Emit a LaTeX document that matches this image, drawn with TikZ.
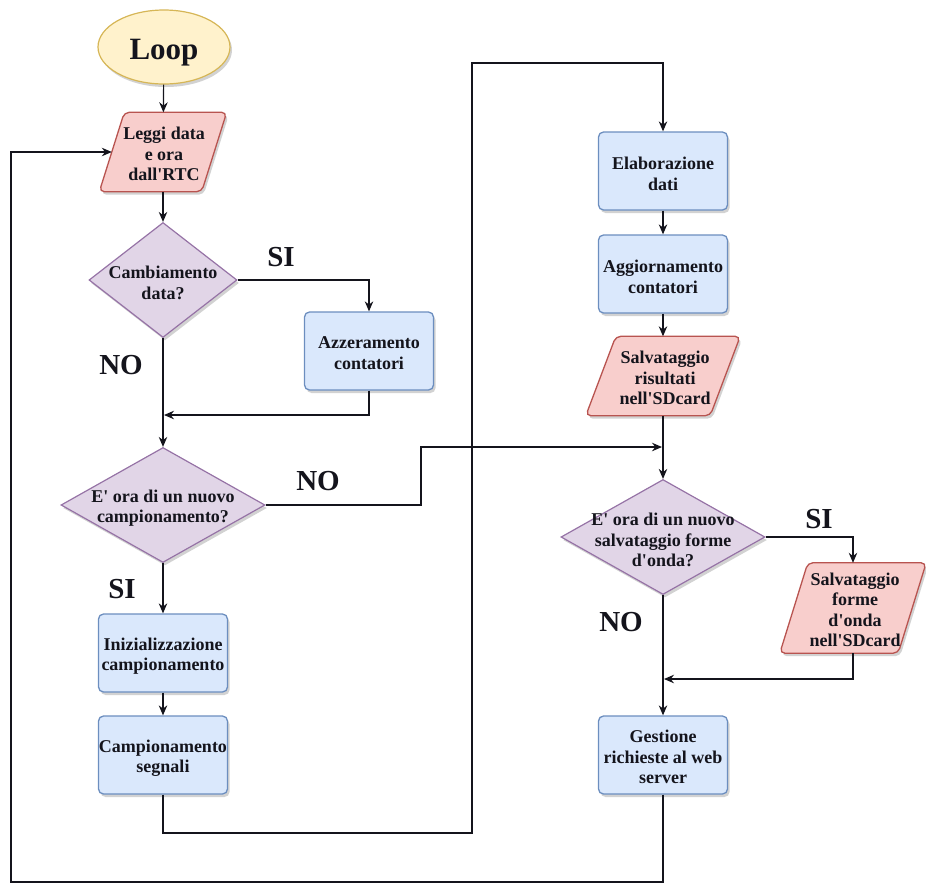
\documentclass[tikz,border=0pt]{standalone}
\usepackage{fontspec}
\setmainfont{Liberation Serif}[Ligatures=TeXOff]
\usetikzlibrary{shapes.geometric,arrows.meta,shadows}

\definecolor{yelFill}{HTML}{FFF2CC}
\definecolor{yelLine}{HTML}{D6B656}
\definecolor{redFill}{HTML}{F8CECC}
\definecolor{redLine}{HTML}{B85450}
\definecolor{vioFill}{HTML}{E1D5E7}
\definecolor{vioLine}{HTML}{9673A6}
\definecolor{bluFill}{HTML}{DAE8FC}
\definecolor{bluLine}{HTML}{6C8EBF}
\definecolor{ink}{HTML}{14141C}

\tikzset{
  x=1pt, y=-1pt,
  softshadow/.style={drop shadow={shadow xshift=2pt, shadow yshift=-3pt, opacity=0.25, fill=black!70}},
  startbox/.style={ellipse, draw=yelLine, fill=yelFill, line width=1.2pt,
    minimum width=132pt, minimum height=74pt, inner sep=0pt, softshadow},
  procbox/.style={rectangle, rounded corners=5pt, draw=bluLine, fill=bluFill, line width=1.3pt,
    minimum width=129pt, minimum height=78pt, inner sep=0pt, softshadow},
  % invisible frame of a data box; the slanted outline is drawn around it
  ioframe/.style={rectangle, inner sep=0pt},
  ioshape/.style={rounded corners=5pt, draw=redLine, fill=redFill, line width=1.3pt, softshadow},
  decision/.style={diamond, draw=vioLine, fill=vioFill, line width=1.2pt,
    inner sep=0pt, softshadow},
  txt/.style={text=ink, align=center, inner sep=0pt,
    font=\fontsize{18}{20.5}\selectfont\bfseries},
  lbl/.style={text=ink, inner sep=0pt, font=\fontsize{29}{32}\selectfont\bfseries},
  arr/.style={draw=ink, line width=1.2pt, -{Stealth[length=10pt,width=8.5pt]}},
}

% slanted data box around frame node #1, half skew #2
\newcommand\slantbox[2]{%
  \path[ioshape] ([xshift=-#2]#1.south west) -- ([xshift=-#2]#1.south east)
    -- ([xshift=#2]#1.north east) -- ([xshift=#2]#1.north west) -- cycle;}

\begin{document}
\begin{tikzpicture}
\useasboundingbox (0,0) rectangle (926,884);

% ---- left column ----
\node[startbox] (loop) at (164,47) {};
\node[text=ink, inner sep=0pt, font=\fontsize{31}{34}\selectfont\bfseries] (loopT) at (164,53) {Loop};

\node[ioframe, minimum width=102pt, minimum height=79pt] (leggi) at (163,152) {};
\slantbox{leggi}{12.5pt}
\node[txt] (leggiT) at (164,154) {Leggi data\\e ora\\dall'RTC};

\node[decision, minimum width=148pt, minimum height=115pt] (d1) at (163,280) {};
\node[txt] (d1T) at (163,283) {Cambiamento\\data?};

\node[procbox] (azz) at (369,351) {};
\node[txt] (azzT) at (369,353) {Azzeramento\\contatori};

\node[decision, minimum width=204pt, minimum height=115pt] (d2) at (163,505) {};
\node[txt] (d2T) at (163,508) {E' ora di un nuovo\\campionamento?};

\node[procbox] (iniz) at (163,653) {};
\node[txt] (inizT) at (163,656) {Inizializzazione\\campionamento};

\node[procbox] (camp) at (163,755) {};
\node[txt] (campT) at (163,758) {Campionamento\\segnali};

% ---- right column ----
\node[procbox] (elab) at (663,171) {};
\node[txt] (elabT) at (663,174) {Elaborazione\\dati};

\node[procbox] (agg) at (663,274) {};
\node[txt] (aggT) at (663,277) {Aggiornamento\\contatori};

\node[ioframe, minimum width=124pt, minimum height=79pt] (salv) at (663,376) {};
\slantbox{salv}{15pt}
\node[txt] (salvT) at (665,378) {Salvataggio\\risultati\\nell'SDcard};

\node[decision, minimum width=204pt, minimum height=115pt] (d3) at (663,537) {};
\node[txt] (d3T) at (663,540) {E' ora di un nuovo\\salvataggio forme\\d'onda?};

\node[ioframe, minimum width=118pt, minimum height=90pt] (salvf) at (853,608) {};
\slantbox{salvf}{14pt}
\node[txt] (salvfT) at (855,610) {Salvataggio\\forme\\d'onda\\nell'SDcard};

\node[procbox] (gest) at (663,755) {};
\node[txt] (gestT) at (663,757) {Gestione\\richieste al web\\server};

% ---- branch labels ----
\node[lbl] (si1) at (281,257) {SI};
\node[lbl] (no1) at (121,365) {NO};
\node[lbl] (no2) at (318,481) {NO};
\node[lbl] (si2) at (122,589) {SI};
\node[lbl] (si3) at (819,519) {SI};
\node[lbl] (no3) at (621,622) {NO};

% ---- routing points ----
\coordinate (m1) at (164,415);
\coordinate (m2) at (662,447);
\coordinate (m3) at (664,679);
\coordinate (n1) at (421,447);
\coordinate (c1) at (472,833);
\coordinate (c2) at (472,63);
\coordinate (bl) at (11,882);

% ---- connectors ----
\draw[arr] (loop) -- (leggi);
\draw[arr] (leggi) -- (d1.north);
\draw[arr] (d1.east) -| (azz.north);
\draw[arr] (azz.south) |- (m1);
\draw[arr] (d1.south) -- (d2.north);
\draw[arr] (d2.south) -- (iniz.north);
\draw[arr] (iniz) -- (camp);
\draw[arr] (camp.south) |- (c1) -- (c2) -| (elab.north);
\draw[arr] (d2.east) -| (n1) -- (m2);
\draw[arr] (elab) -- (agg);
\draw[arr] (agg.south) -- (salv.north);
\draw[arr] (salv.south) -- (d3.north);
\draw[arr] (d3.east) -| (salvf.north);
\draw[arr] (salvf.south) |- (m3);
\draw[arr] (d3.south) -- (gest.north);
\draw[arr] (gest.south) |- (bl) |- (leggi.west);
\end{tikzpicture}
\end{document}
